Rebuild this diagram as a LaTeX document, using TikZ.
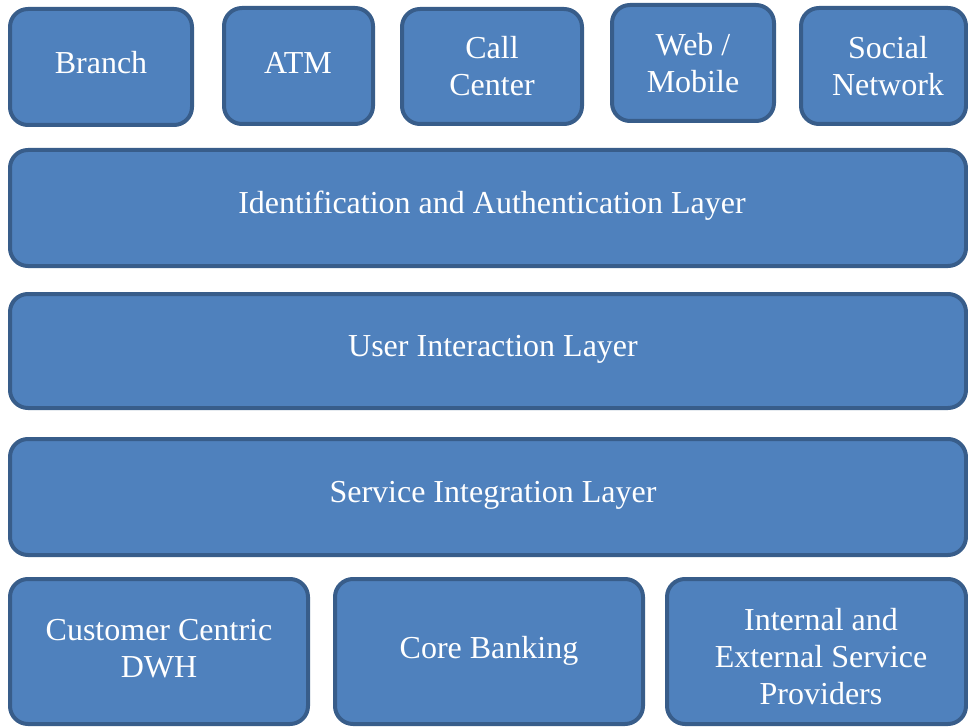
\documentclass[tikz,border=0pt]{standalone}
\usepackage{fontspec}
\setmainfont{Liberation Serif}
\definecolor{boxfill}{HTML}{4F81BD}
\definecolor{boxline}{HTML}{385D8A}
\tikzset{
  blk/.style={draw=boxline, fill=boxfill, line width=4pt, rounded corners=18pt},
  lbl/.style={text=white, align=center, inner sep=0pt, font=\fontsize{32}{37}\selectfont}
}
\begin{document}
\begin{tikzpicture}[x=1pt,y=-1pt]
\useasboundingbox (0,0) rectangle (968,727);
% top row
\draw[blk] (10,9) rectangle (192,125);
\draw[blk] (224,8) rectangle (373,124);
\draw[blk] (402,9) rectangle (582,124);
\draw[blk] (612,5) rectangle (774,121);
\draw[blk] (801,8) rectangle (966,124);
% layers
\draw[blk] (10,150) rectangle (966,266);
\draw[blk] (10,294) rectangle (966,408);
\draw[blk] (10,439) rectangle (966,555);
% bottom row
\draw[blk] (10,579) rectangle (308,724);
\draw[blk] (335,579) rectangle (643,724);
\draw[blk] (667,579) rectangle (966,724);
% labels
\node[lbl] (branch) at (101,63) {Branch};
\node[lbl] (atm) at (298,63) {ATM};
\node[lbl] (call) at (492,66) {Call\\Center};
\node[lbl] (web) at (693,63) {Web /\\Mobile};
\node[lbl] (social) at (888,66) {Social\\Network};
\node[lbl] (ident) at (492,206) {Identification and Authentication Layer};
\node[lbl] (user) at (493,349) {User Interaction Layer};
\node[lbl] (serv) at (493,495) {Service Integration Layer};
\node[lbl] (dwh) at (159,649) {Customer Centric\\DWH};
\node[lbl] (core) at (489,651) {Core Banking};
\node[lbl] (ext) at (821,657) {Internal and\\External Service\\Providers};
\end{tikzpicture}
\end{document}
